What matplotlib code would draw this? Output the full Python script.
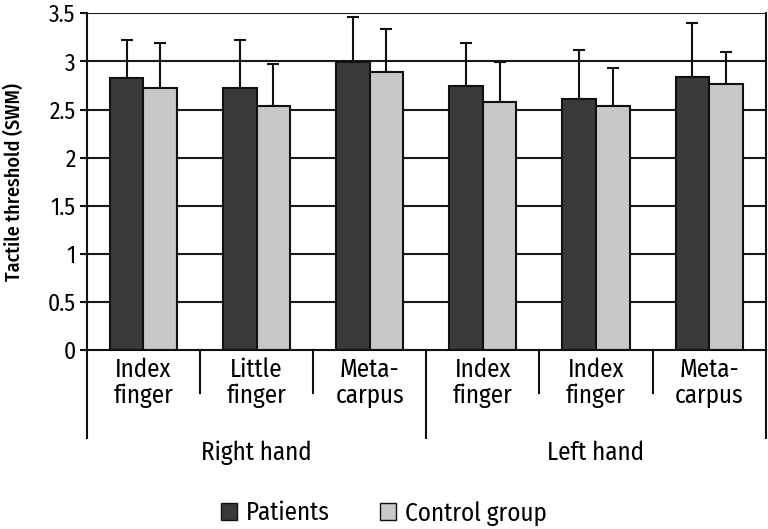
import matplotlib
matplotlib.use("Agg")
import matplotlib.pyplot as plt
from matplotlib.patches import Patch
from matplotlib.transforms import blended_transform_factory
import numpy as np

plt.rcParams['font.family'] = ['Fira Sans Condensed', 'DejaVu Sans']

categories = ["Index\nfinger", "Little\nfinger", "Meta-\ncarpus", "Index\nfinger", "Index\nfinger", "Meta-\ncarpus"]
groups = ["Right hand", "Left hand"]
patients = [2.83, 2.72, 2.99, 2.74, 2.61, 2.84]
patients_err = [0.39, 0.50, 0.47, 0.45, 0.51, 0.56]
control = [2.72, 2.54, 2.89, 2.58, 2.54, 2.76]
control_err = [0.47, 0.43, 0.45, 0.41, 0.39, 0.34]
yticks = [0, 0.5, 1, 1.5, 2, 2.5, 3, 3.5]

fig = plt.figure(figsize=(7.68, 5.29), dpi=100)
ax = fig.add_axes([0.113, 0.338, 0.884, 0.637])

x = np.arange(len(categories))
w = 0.297
dark = "#3a3a3a"
light = "#c8c8c8"

for yv in yticks[1:]:
    ax.axhline(yv, color="#1a1a1a", lw=1.5, zorder=0)

ax.bar(x - w/2, patients, w, color=dark, edgecolor="#111111", lw=1.5, zorder=2)
ax.bar(x + w/2, control, w, color=light, edgecolor="#111111", lw=1.5, zorder=2)
ax.errorbar(x - w/2, patients, yerr=[np.zeros(6), patients_err], fmt="none",
            ecolor="#111111", elinewidth=1.5, capsize=4, capthick=1.5, zorder=1)
ax.errorbar(x + w/2, control, yerr=[np.zeros(6), control_err], fmt="none",
            ecolor="#111111", elinewidth=1.5, capsize=4, capthick=1.5, zorder=1)

ax.set_xlim(-0.5, 5.5)
ax.set_ylim(0, 3.5)
ax.set_yticks(yticks)
ax.set_yticklabels(["0", "0.5", "1", "1.5", "2", "2.5", "3", "3.5"], fontsize=17)
ax.tick_params(axis="y", direction="out", length=5, width=1.5, color="#111111", pad=3)
ax.set_xticks([])
for s in ["left", "right", "bottom"]:
    ax.spines[s].set_linewidth(1.5)
    ax.spines[s].set_color("#111111")
ax.spines["top"].set_visible(False)

ax.set_ylabel("Tactile threshold (SWM)", fontsize=14.5, fontweight="medium")
ax.yaxis.set_label_coords(-0.092, 0.5)

tr = blended_transform_factory(ax.transData, ax.transAxes)
for i, c in enumerate(categories):
    ax.text(i, -0.022, c, transform=tr, ha="center", va="top", fontsize=18,
            linespacing=1.05)
for b in [0.5, 1.5, 3.5, 4.5]:
    ax.plot([b, b], [0, -0.128], transform=tr, color="#111111", lw=1.5, clip_on=False)
for b in [-0.5, 2.5, 5.5]:
    ax.plot([b, b], [0, -0.261], transform=tr, color="#111111", lw=1.5, clip_on=False)
for gi, g in enumerate(groups):
    ax.text(1 + 3*gi, -0.305, g, transform=tr, ha="center", va="center", fontsize=18)

handles = [Patch(facecolor=dark, edgecolor="#111111", label="Patients"),
           Patch(facecolor=light, edgecolor="#111111", label="Control group")]
leg = fig.legend(handles=handles, loc="center", bbox_to_anchor=(0.5, 0.03), ncol=2,
           frameon=False, prop={"size": 18}, handlelength=0.65,
           handleheight=0.65, handletextpad=0.35, columnspacing=2.0)

fig.savefig("out.png", dpi=100)
